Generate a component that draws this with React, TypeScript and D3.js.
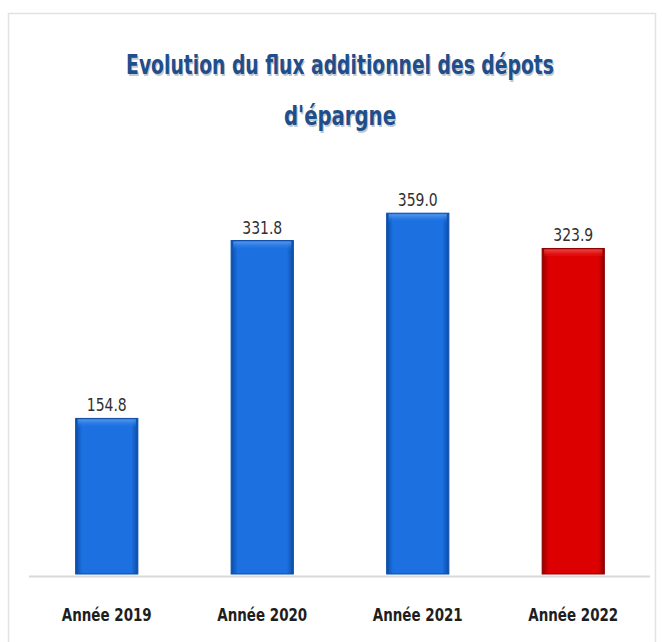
import React, { useLayoutEffect, useRef, useState } from "react";
import * as d3 from "d3";

const categories = ["Année 2019", "Année 2020", "Année 2021", "Année 2022"];
const values = [154.8, 331.8, 359.0, 323.9];
const barColors = ["blue", "blue", "blue", "red"];
const titleLines = ["Evolution du flux additionnel des dépots", "d'épargne"];

const W = 662;
const H = 642;
const baseY = 574;

const palette: Record<string, { mid: string; edge: string; top: string }> = {
  blue: { mid: "#1a6fe0", edge: "#0c4ca6", top: "#5a9cf0" },
  red: { mid: "#dd0000", edge: "#8e0000", top: "#f05050" },
};

const condensed = "'Liberation Sans Narrow', 'DejaVu Sans Condensed', 'Arial Narrow', sans-serif";

// Centered text squeezed horizontally to a target width.
function FitText(props: {
  cx: number;
  y: number;
  width: number;
  children: string;
  [k: string]: any;
}) {
  const { cx, y, width, children, ...rest } = props;
  const ref = useRef<SVGTextElement>(null);
  const [sx, setSx] = useState(1);
  useLayoutEffect(() => {
    if (ref.current) {
      const natural = ref.current.getComputedTextLength();
      if (natural > 0) setSx(width / natural);
    }
  }, [width, children]);
  return (
    <g transform={`translate(${cx},${y}) scale(${sx},1)`}>
      <text ref={ref} x={0} y={0} textAnchor="middle" fontFamily={condensed} {...rest}>
        {children}
      </text>
    </g>
  );
}

export default function App() {
  const x = d3
    .scaleBand<string>()
    .domain(categories)
    .range([29, 651])
    .paddingInner(0.6)
    .paddingOuter(0.3);
  const y = d3.scaleLinear().domain([0, 400]).range([baseY, 172]);

  return (
    <svg width={W} height={H} style={{ display: "block", position: "absolute", left: 0, top: 0 }}>
      <defs>
        {Object.entries(palette).map(([k, c]) => (
          <linearGradient key={k} id={`grad-${k}`} x1="0" x2="1" y1="0" y2="0">
            <stop offset="0" stopColor={c.edge} />
            <stop offset="0.1" stopColor={c.mid} />
            <stop offset="0.9" stopColor={c.mid} />
            <stop offset="1" stopColor={c.edge} />
          </linearGradient>
        ))}
        {Object.entries(palette).map(([k, c]) => (
          <linearGradient key={k} id={`top-${k}`} x1="0" x2="0" y1="0" y2="1">
            <stop offset="0" stopColor={c.top} stopOpacity={0.9} />
            <stop offset="1" stopColor={c.mid} stopOpacity={0} />
          </linearGradient>
        ))}
        <filter id="soft" x="-5%" y="-5%" width="110%" height="110%">
          <feGaussianBlur stdDeviation="0.6" />
        </filter>
      </defs>
      <rect x={0} y={0} width={W} height={H} fill="#ffffff" />
      <rect x={8.5} y={13.5} width={647} height={640} fill="none" stroke="#e2e2e2" strokeWidth={1.5} />

      {titleLines.map((t, i) => {
        const ty = i === 0 ? 74 : 125;
        const tw = i === 0 ? 428 : 112;
        return (
          <g key={i}>
            <FitText cx={341.2} y={ty + 1.5} width={tw} fontWeight="bold" fontSize={27} fill="#9aa6b4" opacity={0.6}>
              {t}
            </FitText>
            <FitText cx={340} y={ty} width={tw} fontWeight="bold" fontSize={27} fill="#1f4e8a">
              {t}
            </FitText>
          </g>
        );
      })}

      <line x1={29} x2={650} y1={baseY + 2.5} y2={baseY + 2.5} stroke="#d9d9d9" strokeWidth={2} />

      <g filter="url(#soft)">
        {categories.map((c, i) => {
          const x0 = x(c) as number;
          const bw = x.bandwidth();
          const yt = y(values[i]);
          const k = barColors[i];
          return (
            <g key={c}>
              <rect x={x0} y={yt} width={bw} height={baseY - yt} fill={`url(#grad-${k})`} stroke={palette[k].edge} strokeWidth={1} />
              <rect x={x0 + 2} y={yt + 1} width={bw - 4} height={9} fill={`url(#top-${k})`} />
            </g>
          );
        })}
      </g>

      {categories.map((c, i) => (
        <FitText
          key={c}
          cx={(x(c) as number) + x.bandwidth() / 2}
          y={y(values[i]) - 7}
          width={40}
          fontSize={17}
          fill="#303030"
        >
          {values[i].toFixed(1)}
        </FitText>
      ))}

      {categories.map((c) => (
        <FitText
          key={c}
          cx={(x(c) as number) + x.bandwidth() / 2}
          y={621}
          width={90}
          fontWeight="bold"
          fontSize={17}
          fill="#1e1e1e"
        >
          {c}
        </FitText>
      ))}
    </svg>
  );
}
